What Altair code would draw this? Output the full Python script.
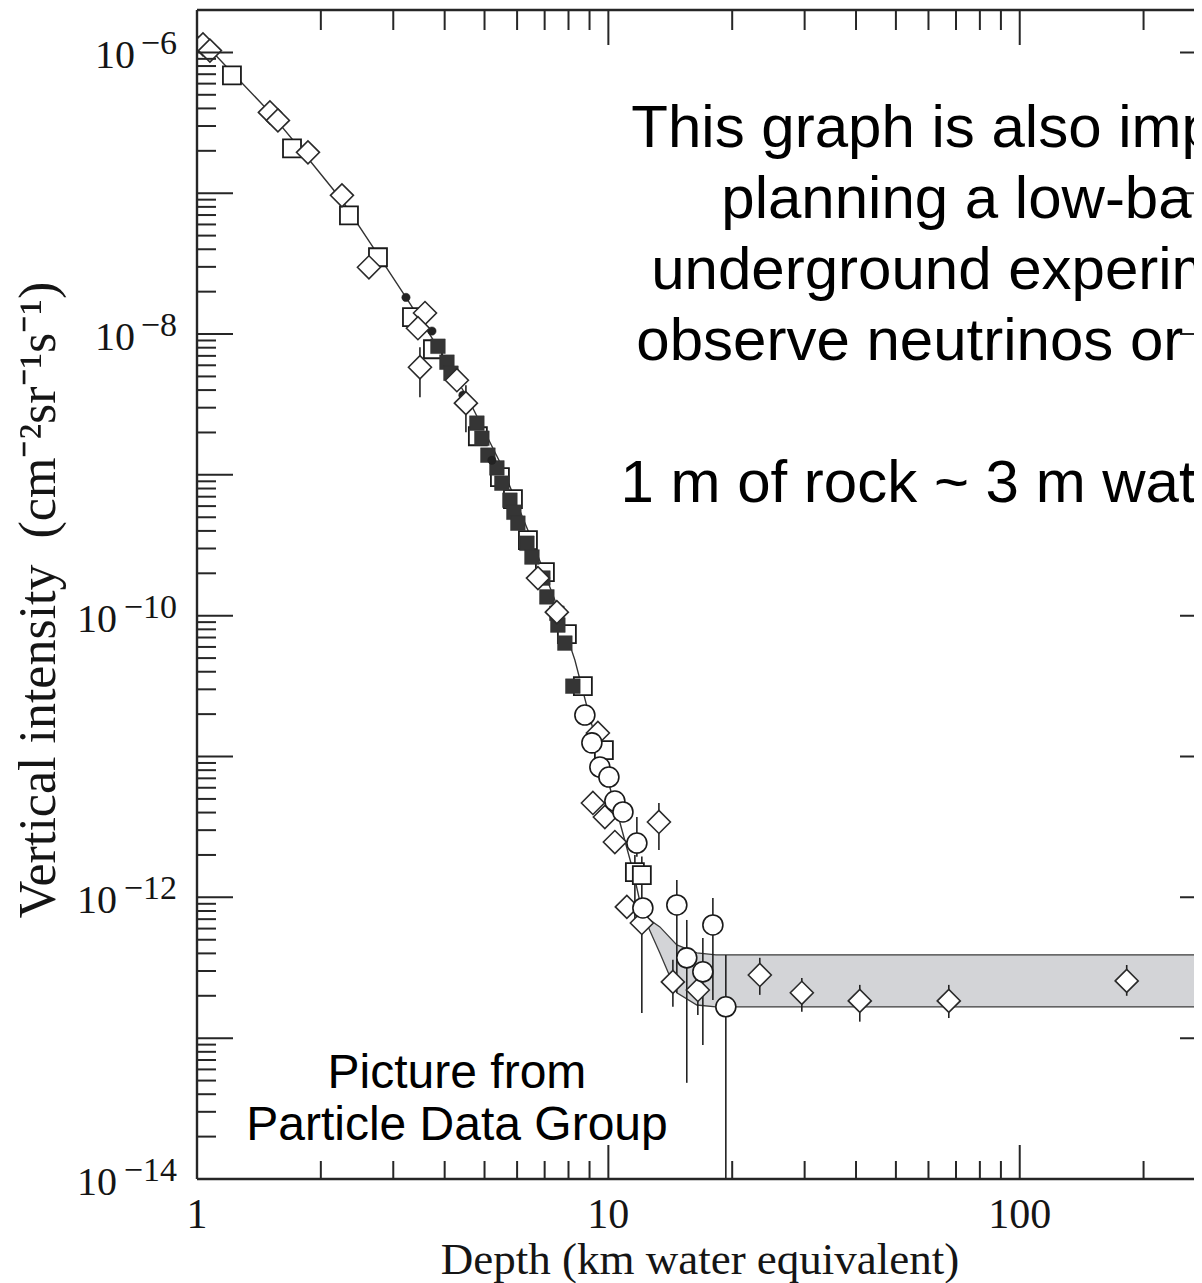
import altair as alt
import pandas as pd

SERIF = "Liberation Serif"
SANS = "Liberation Sans"
AX = "#262626"
TXT = "#151515"

# ---------------- values ----------------
# fitted depth-intensity curve
fit_depth = [1.0, 1.216, 1.504, 1.78, 2.251, 2.708, 3.221, 3.895, 4.607, 5.45,
             6.447, 7.413, 8.292, 9.016, 9.806, 10.66, 11.47, 12.13]
fit_int = [1.32e-6, 7.21e-7, 3.75e-7, 2.08e-7, 8.91e-8, 3.94e-8, 1.82e-8, 7.67e-9,
           3.28e-9, 1.23e-9, 3.73e-10, 1.29e-10, 4.84e-11, 1.88e-11, 8.02e-12,
           3.43e-12, 1.56e-12, 7.5e-13]

# shaded band (neutrino-induced muons)
band_depth = [12.13, 13.34, 14.67, 16.41, 18.25, 300]
band_low = [7.5e-13, 4.03e-13, 2.10e-13, 1.72e-13, 1.67e-13, 1.67e-13]
band_high = [7.5e-13, 6.17e-13, 4.59e-13, 4.03e-13, 3.9e-13, 3.9e-13]

# open diamonds (compilation)
diam_depth = [1.034, 1.075, 1.504, 1.573, 1.861, 2.251, 2.618, 3.583, 3.444, 3.483,
              4.283, 4.505, 6.742, 7.495, 9.43, 9.17, 9.806, 10.37, 13.27, 11.09,
              12.06, 14.35, 16.5, 23.34, 29.53, 40.85, 67.23, 182.0]
diam_int = [1.14e-6, 1.03e-6, 3.75e-7, 3.29e-7, 1.95e-7, 9.66e-8, 2.98e-8, 1.41e-8,
            1.10e-8, 5.81e-9, 4.70e-9, 3.23e-9, 1.85e-10, 1.06e-10, 1.47e-11,
            4.68e-12, 3.72e-12, 2.47e-12, 3.43e-12, 8.55e-13, 6.58e-13, 2.51e-13,
            2.20e-13, 2.81e-13, 2.10e-13, 1.84e-13, 1.84e-13, 2.55e-13]

# open squares
sq_depth = [1.216, 1.702, 2.341, 2.754, 3.331, 3.746, 4.817, 5.45, 5.862, 6.375,
            7.01, 7.928, 8.67, 9.752, 11.6, 12.06]
sq_int = [6.87e-7, 2.08e-7, 6.97e-8, 3.51e-8, 1.32e-8, 7.80e-9, 1.88e-9, 9.63e-10,
          6.72e-10, 3.44e-10, 2.04e-10, 7.40e-11, 3.16e-11, 1.11e-11, 1.51e-12,
          1.44e-12]

# open circles
circ_depth = [8.768, 9.119, 9.535, 10.03, 10.37, 10.85, 11.73, 12.13, 14.67, 17.95,
              15.51, 16.97, 19.3]
circ_int = [1.97e-11, 1.25e-11, 8.42e-12, 7.15e-12, 4.83e-12, 4.04e-12, 2.43e-12,
            8.41e-13, 8.83e-13, 6.37e-13, 3.72e-13, 2.96e-13, 1.67e-13]

# filled squares
fsq_depth = [3.852, 4.051, 4.143, 4.79, 4.926, 5.095, 5.358, 5.51, 5.763, 5.893,
             6.026, 6.339, 6.52, 6.931, 7.088, 7.495, 7.538, 7.839, 8.197]
fsq_int = [8.19e-9, 6.31e-9, 5.27e-9, 2.33e-9, 1.82e-9, 1.38e-9, 1.12e-9, 8.73e-10,
           6.61e-10, 5.43e-10, 4.54e-10, 3.27e-10, 2.61e-10, 1.85e-10, 1.36e-10,
           1.04e-10, 8.58e-11, 6.39e-11, 3.16e-11]

# small filled dots
dot_depth = [3.221, 3.725, 4.43, 5.211]
dot_int = [1.82e-8, 1.05e-8, 3.68e-9, 1.27e-9]

# error bars
err_depth = [3.483, 4.505, 13.27, 12.06, 14.35, 16.5, 23.34, 29.53, 40.85, 67.23,
             182.0, 11.73, 14.67, 17.95, 15.51, 16.97, 19.3, 11.6, 12.06]
err_low = [3.56e-9, 2.01e-9, 2.17e-12, 1.51e-13, 1.67e-13, 1.46e-13, 2.03e-13,
           1.54e-13, 1.31e-13, 1.39e-13, 2.00e-13, 1.94e-12, 2.10e-13, 1.87e-13,
           4.82e-14, 8.96e-14, 1e-14, 6.37e-13, 6.0e-13]
err_high = [8.06e-9, 4.33e-9, 4.68e-12, 9.59e-13, 3.60e-13, 3.05e-13, 3.72e-13,
            2.68e-13, 2.39e-13, 2.39e-13, 3.31e-13, 3.72e-12, 1.33e-12, 9.90e-13,
            6.91e-13, 5.15e-13, 3.90e-13, 2.00e-12, 1.95e-12]

# axes
X_DOMAIN = [1, 300]
Y_DOMAIN = [1e-14, 2e-6]
x_label_vals = [1, 10, 100]
x_label_text = ["1", "10", "100"]
x_major_ticks = [1, 10, 100]
x_minor_ticks = [2, 3, 4, 5, 6, 7, 8, 9, 20, 30, 40, 50, 60, 70, 80, 90, 200]
y_major_ticks = [1e-6, 1e-7, 1e-8, 1e-9, 1e-10, 1e-11, 1e-12, 1e-13, 1e-14]
minor_mult = [2, 3, 4, 5, 6, 7, 8, 9]
y_minor_ticks = [m * 10.0 ** e for e in range(-14, -6) for m in minor_mult]
y_label_vals = [1e-6, 1e-8, 1e-10, 1e-12, 1e-14]
y_label_base = ["10", "10", "10", "10", "10"]
y_label_exp = ["\u22126", "\u22128", "\u221210", "\u221212", "\u221214"]

x_title = ["Depth (km water equivalent)"]
y_title = ["Vertical intensity\u00a0 (cm\u207b\u00b2sr\u207b\u00b9s\u207b\u00b9)"]

note_lines = ["This graph is also important when",
              "planning a low-background",
              "underground experiment (e.g. to",
              "observe neutrinos or dark matter)"]
note_pos = {"d": [140.0], "i": [2.13e-7]}
note2_lines = ["1 m of rock ~ 3 m water equivalent"]
note2_pos = {"d": [140.0], "i": [6.42e-10]}
credit_lines = ["Picture from", "Particle Data Group"]
credit_pos = {"d": [4.285], "i": [4.43e-14]}

# ---------------- layout ----------------
W = 997       # visible plot width (page is cut at the right)
H = 1169      # plot height
XR = 1019     # pixel position of the right frame (depth 300), just outside the picture

xs = alt.Scale(type="log", domain=X_DOMAIN, range=[0, XR], nice=False)
ys = alt.Scale(type="log", domain=Y_DOMAIN, nice=False)


def X(f):
    return alt.X(f, type="quantitative", scale=xs, axis=None)


def Y(f):
    return alt.Y(f, type="quantitative", scale=ys, axis=None)


band = alt.Chart(pd.DataFrame({"d": band_depth, "lo": band_low, "hi": band_high})).mark_area(
    fill="#d3d4d7", stroke="#3a3a3a", strokeWidth=1.3, clip=True
).encode(x=X("d"), y=Y("lo"), y2="hi")

fit = alt.Chart(pd.DataFrame({"d": fit_depth, "i": fit_int})).mark_line(
    color="#333333", strokeWidth=1.4, clip=True
).encode(x=X("d"), y=Y("i"))

errs = alt.Chart(pd.DataFrame({"d": err_depth, "lo": err_low, "hi": err_high})).mark_rule(
    color="#222222", strokeWidth=1.6, clip=True
).encode(x=X("d"), y=Y("lo"), y2="hi")


def pts(depth, inten, shape, size, fill, stroke, sw):
    return alt.Chart(pd.DataFrame({"d": depth, "i": inten})).mark_point(
        shape=shape, size=size, filled=True, fill=fill, stroke=stroke, strokeWidth=sw,
        opacity=1, fillOpacity=1, strokeOpacity=1, clip=True
    ).encode(x=X("d"), y=Y("i"))


squares = pts(sq_depth, sq_int, "square", 324, "white", "#1a1a1a", 1.8)
fsquares = pts(fsq_depth, fsq_int, "square", 215, "#353535", "#353535", 0.5)
dots = pts(dot_depth, dot_int, "circle", 70, "#222222", "#222222", 0.5)
diamonds = pts(diam_depth, diam_int, "diamond", 529, "white", "#2a2a2a", 1.6)
circles = pts(circ_depth, circ_int, "circle", 400, "white", "#1a1a1a", 1.6)

# frame through the scales
hframe = alt.Chart(pd.DataFrame({"a": [X_DOMAIN[0]] * 2, "b": [X_DOMAIN[1]] * 2,
                                 "y": [Y_DOMAIN[0], Y_DOMAIN[1]]})).mark_rule(
    color=AX, strokeWidth=2.4
).encode(x=X("a"), x2="b", y=Y("y"))
vframe = alt.Chart(pd.DataFrame({"x": [X_DOMAIN[0], X_DOMAIN[1]], "a": [Y_DOMAIN[0]] * 2,
                                 "b": [Y_DOMAIN[1]] * 2})).mark_rule(
    color=AX, strokeWidth=2.4
).encode(x=X("x"), y=Y("a"), y2="b")


def ticks(vals, side, length):
    df = pd.DataFrame({"v": vals})
    m = alt.Chart(df).mark_rule(color=AX, strokeWidth=2)
    if side == "left":
        return m.encode(y=Y("v"), x=alt.value(0), x2=alt.value(length))
    if side == "right":
        return m.encode(y=Y("v"), x=alt.value(XR), x2=alt.value(XR - length))
    if side == "bottom":
        return m.encode(x=X("v"), y=alt.value(H), y2=alt.value(H - length))
    return m.encode(x=X("v"), y=alt.value(0), y2=alt.value(length))


tick_layers = [
    ticks(y_major_ticks, "left", 36), ticks(y_minor_ticks, "left", 19),
    ticks(y_major_ticks, "right", 36), ticks(y_minor_ticks, "right", 19),
    ticks(x_major_ticks, "bottom", 34), ticks(x_minor_ticks, "bottom", 18),
    ticks(x_major_ticks, "top", 35), ticks(x_minor_ticks, "top", 20),
]

# tick labels
ylab_df = pd.DataFrame({"v": y_label_vals, "b": y_label_base, "e": y_label_exp})
ylab_exp = alt.Chart(ylab_df).mark_text(
    align="right", baseline="alphabetic", dy=2, font=SERIF, fontSize=34, color=TXT
).encode(y=Y("v"), x=alt.value(-20), text="e:N")
ylab_base = alt.Chart(ylab_df).transform_calculate(
    bx="-26 - 18 * length(datum.e)"
).mark_text(
    align="right", baseline="alphabetic", dy=16, font=SERIF, fontSize=40, color=TXT
).encode(y=Y("v"), x=alt.X("bx:Q", scale=None, axis=None), text="b:N")

xlab = alt.Chart(pd.DataFrame({"v": x_label_vals, "t": x_label_text})).mark_text(
    align="center", baseline="alphabetic", font=SERIF, fontSize=42, color=TXT
).encode(x=X("v"), y=alt.value(H + 49), text="t:N")

xtitle = alt.Chart(pd.DataFrame({"t": x_title})).mark_text(
    align="center", baseline="alphabetic", font=SERIF, fontSize=45, color=TXT
).encode(x=alt.value(503), y=alt.value(H + 95), text="t:N")

ytitle = alt.Chart(pd.DataFrame({"t": y_title})).mark_text(
    align="center", baseline="alphabetic", angle=270, font=SERIF, fontSize=52, color=TXT
).encode(x=alt.value(-142), y=alt.value(590), text="t:N")

# annotations
note = alt.Chart(pd.DataFrame(note_pos)).mark_text(
    align="center", baseline="alphabetic", font=SANS, fontSize=60, lineHeight=71, color="black"
).encode(x=X("d"), y=Y("i"), text=alt.value(note_lines))

note2 = alt.Chart(pd.DataFrame(note2_pos)).mark_text(
    align="center", baseline="alphabetic", font=SANS, fontSize=60, color="black"
).encode(x=X("d"), y=Y("i"), text=alt.value(note2_lines[0]))

credit = alt.Chart(pd.DataFrame(credit_pos)).mark_text(
    align="center", baseline="alphabetic", font=SANS, fontSize=48, lineHeight=52, color="black"
).encode(x=X("d"), y=Y("i"), text=alt.value(credit_lines))

chart = alt.layer(
    band, fit, errs, squares, fsquares, dots, diamonds, circles,
    hframe, vframe, *tick_layers, ylab_exp, ylab_base, xlab, xtitle, ytitle,
    note, note2, credit
).properties(
    width=W, height=H,
    autosize=alt.AutoSizeParams(type="none"),
    padding={"left": 189, "top": 2, "right": 0, "bottom": 104},
).configure_view(strokeWidth=0)

chart.save("out.html", embed_options={"renderer": "svg", "actions": False})
